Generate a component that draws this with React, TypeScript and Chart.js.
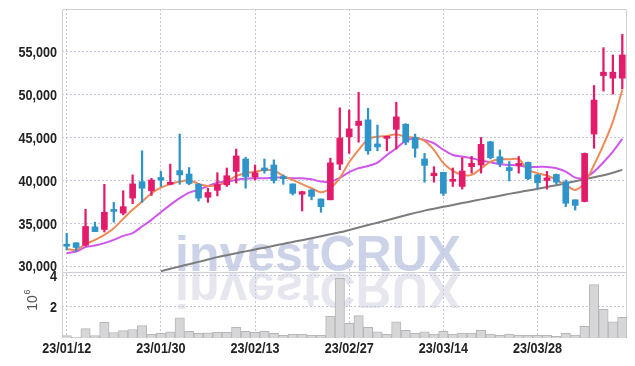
import React, { useEffect, useRef } from 'react';
import { Chart, registerables } from 'chart.js';

Chart.register(...registerables);

const dates = [
  '23/01/12', '23/01/13', '23/01/16', '23/01/17', '23/01/18', '23/01/19', '23/01/20', '23/01/25', '23/01/26', '23/01/27',
  '23/01/30', '23/01/31', '23/02/01', '23/02/02', '23/02/03', '23/02/06', '23/02/07', '23/02/08', '23/02/09', '23/02/10',
  '23/02/13', '23/02/14', '23/02/15', '23/02/16', '23/02/17', '23/02/20', '23/02/21', '23/02/22', '23/02/23', '23/02/24',
  '23/02/27', '23/02/28', '23/03/02', '23/03/03', '23/03/06', '23/03/07', '23/03/08', '23/03/09', '23/03/10', '23/03/13',
  '23/03/14', '23/03/15', '23/03/16', '23/03/17', '23/03/20', '23/03/21', '23/03/22', '23/03/23', '23/03/24', '23/03/27',
  '23/03/28', '23/03/29', '23/03/30', '23/03/31', '23/04/03', '23/04/04', '23/04/05', '23/04/06', '23/04/07', '23/04/10',
];

const opens = [
  32600, 32800, 32500, 34650, 34350, 36500, 36250, 38000, 39900, 38850,
  40400, 39600, 41200, 40800, 39600, 38100, 38900, 39550, 41100, 42550,
  40450, 41500, 41850, 40500, 39650, 38450, 38950, 37900, 37800, 41950,
  45150, 46450, 47100, 44300, 44950, 46000, 46600, 45050, 42550, 40600,
  41000, 39950, 39350, 41650, 41850, 44550, 42800, 41550, 41800, 42150,
  40700, 40050, 40750, 39900, 37800, 37600, 45450, 52250, 51950, 51950,
];
const highs = [
  33900, 32800, 36700, 35200, 39600, 37500, 38850, 40700, 43500, 40300,
  41100, 41950, 45450, 41550, 39700, 39150, 40950, 41500, 43700, 42750,
  41850, 42550, 42450, 40700, 39650, 38800, 39000, 37900, 42650, 48500,
  48250, 50300, 48450, 46500, 45200, 49150, 46650, 45450, 43200, 41650,
  41000, 41500, 42700, 42850, 45050, 44600, 43600, 42250, 42850, 42200,
  40750, 41100, 40800, 40100, 37800, 43250, 51100, 55500, 54650, 57050,
];
const lows = [
  32000, 31800, 32400, 34100, 34050, 35200, 36050, 37350, 37500, 38300,
  39350, 39550, 39600, 39550, 37650, 37500, 38250, 39350, 39750, 39150,
  40100, 40900, 39750, 39600, 38350, 36500, 37800, 36350, 37800, 41300,
  43200, 44500, 43100, 43500, 43500, 43700, 44200, 42750, 39850, 39850,
  38300, 39350, 39050, 40900, 40900, 42550, 41650, 40000, 40900, 40150,
  39150, 39050, 39600, 37000, 36600, 37550, 43800, 50450, 50100, 50700,
];
const closes = [
  32400, 32250, 34700, 34100, 36350, 36450, 37000, 39650, 39150, 40100,
  40100, 39750, 40700, 39700, 38000, 38650, 39600, 40600, 42900, 40500,
  40950, 41200, 40050, 40250, 38550, 38750, 38200, 37000, 42100, 45000,
  46050, 46950, 43500, 43950, 45150, 47450, 44500, 43800, 41800, 40900,
  38550, 40100, 41150, 42050, 44250, 42700, 42050, 41200, 41950, 40250,
  39800, 40350, 39850, 37400, 37150, 43200, 49400, 52650, 52650, 54650,
];
const volumes = [
  150000, 50000, 600000, 150000, 1000000, 350000, 470000, 540000, 790000, 240000,
  290000, 390000, 1290000, 420000, 290000, 330000, 360000, 360000, 680000, 420000,
  360000, 420000, 290000, 170000, 250000, 250000, 170000, 170000, 1400000, 3800000,
  930000, 1420000, 680000, 400000, 240000, 1030000, 490000, 300000, 400000, 250000,
  420000, 250000, 320000, 320000, 490000, 250000, 170000, 250000, 170000, 170000,
  170000, 170000, 100000, 300000, 190000, 740000, 3400000, 1820000, 1030000, 1310000,
];
const ma5 = [
  32050, 31980, 32640, 33140, 33720, 34500, 35580, 36630, 37590, 38570,
  39220, 39620, 39920, 40080, 39650, 39420, 39500, 39920, 40580, 40900,
  41080, 41280, 41200, 40580, 40120, 39620, 39150, 38690, 39150, 40350,
  42170, 43600, 44850, 45150, 45230, 45430, 45120, 45040, 44650, 43600,
  42060, 41160, 40700, 40700, 41440, 42240, 42520, 42520, 42520, 41280,
  40900, 40620, 40120, 39540, 38950, 39730, 41860, 44190, 46900, 50580,
];
const ma20 = [
  31590, 31780, 32290, 32480, 32760, 33140, 33600, 33920, 34690, 35470,
  36360, 37210, 37990, 38640, 38950, 39400, 39800, 39920, 40120, 40270,
  40310, 40310, 40380, 40380, 40310, 40310, 40190, 39920, 39920, 40350,
  41010, 41480, 41740, 42130, 43020, 43800, 44650, 44970, 44770, 44380,
  43610, 43020, 42830, 42640, 42380, 42170, 41940, 41860, 41780, 41630,
  41630, 41630, 41480, 41080, 40380, 40380, 41080, 42170, 43410, 44880,
];
const ma60 = [
  null, null, null, null, null, null, null, null, null, null,
  29490, 29770, 30050, 30310, 30580, 30850, 31130, 31360, 31580, 31800,
  32020, 32230, 32450, 32670, 32900, 33100, 33330, 33550, 33790, 34020,
  34290, 34570, 34860, 35140, 35430, 35710, 36000, 36280, 36540, 36760,
  36980, 37200, 37420, 37630, 37850, 38060, 38270, 38490, 38690, 38880,
  39080, 39290, 39500, 39720, 39950, 40190, 40430, 40660, 40950, 41280,
];

const priceTicks = [30000, 35000, 40000, 45000, 50000, 55000];
const volumeTicks = [2000000, 4000000];
const xTickLabels = ['23/01/12', '23/01/30', '23/02/13', '23/02/27', '23/03/14', '23/03/28'];

const UP = '#e31b6b';
const DOWN = '#2e94c9';
const GRID = '#c3c6dc';
const HIDDEN_FONT = { family: "'Liberation Sans', sans-serif", size: 15, weight: 'bold' as const };
const LABEL_FONT = 'bold 15px "Liberation Sans", Arial, sans-serif';
const LABEL_SX = 0.84;

function drawNarrow(ctx: CanvasRenderingContext2D, text: string, x: number, y: number, align: CanvasTextAlign) {
  ctx.save();
  ctx.translate(x, y);
  ctx.scale(LABEL_SX, 1);
  ctx.textAlign = align;
  ctx.textBaseline = 'middle';
  ctx.fillText(text, 0, 0);
  ctx.restore();
}

function zeroPadding(s: any) {
  s.paddingTop = 0;
  s.paddingBottom = 0;
  s.paddingLeft = 0;
  s.paddingRight = 0;
}

const decorPlugin = {
  id: 'decor',
  beforeDraw(chart: any) {
    const ctx = chart.ctx;
    const base = chart.scales.y.bottom - 1;
    ctx.save();
    ctx.font = 'bold 50px "Liberation Sans", Arial, sans-serif';
    ctx.textAlign = 'left';
    ctx.textBaseline = 'alphabetic';
    ctx.fillStyle = 'rgb(204,210,232)';
    ctx.fillText('investCRUX', 175, base);
    ctx.translate(0, 2 * base + 2);
    ctx.scale(1, -1);
    ctx.fillStyle = 'rgb(230,230,238)';
    ctx.fillText('investCRUX', 175, base);
    ctx.restore();
  },
  beforeDatasetsDraw(chart: any) {
    const ctx = chart.ctx;
    const a = chart.chartArea;
    const sep = chart.scales.y.bottom;
    ctx.save();
    ctx.strokeStyle = '#cfcfd4';
    ctx.lineWidth = 1;
    ctx.beginPath();
    ctx.moveTo(a.left + 0.5, a.bottom);
    ctx.lineTo(a.left + 0.5, a.top + 0.5);
    ctx.lineTo(a.right - 0.5, a.top + 0.5);
    ctx.lineTo(a.right - 0.5, a.bottom);
    ctx.moveTo(a.left, Math.round(sep) + 0.5);
    ctx.lineTo(a.right, Math.round(sep) + 0.5);
    ctx.stroke();
    ctx.restore();
  },
  afterDraw(chart: any) {
    const ctx = chart.ctx;
    const { x, y, yVol } = chart.scales;
    ctx.save();
    ctx.font = LABEL_FONT;
    ctx.fillStyle = '#222';
    y.ticks.forEach((t: any) => {
      drawNarrow(ctx, Number(t.value).toLocaleString('en-US'), 57, y.getPixelForValue(t.value) + 0.5, 'right');
    });
    yVol.ticks.forEach((t: any) => {
      drawNarrow(ctx, String(Number(t.value) / 1000000), 57, yVol.getPixelForValue(t.value) + 1.5, 'right');
    });
    x.ticks.forEach((t: any, i: number) => {
      if (t.label !== null && t.label !== undefined && t.label !== '') {
        drawNarrow(ctx, String(t.label), x.getPixelForTick(i), 349, 'center');
      }
    });
    ctx.restore();

    ctx.save();
    ctx.translate(33, 303);
    ctx.rotate(-Math.PI / 2);
    ctx.fillStyle = '#555';
    ctx.textAlign = 'center';
    ctx.textBaseline = 'middle';
    ctx.font = '14px "Liberation Sans", Arial, sans-serif';
    ctx.fillText('10', 0, 0);
    ctx.font = '9px "Liberation Sans", Arial, sans-serif';
    ctx.fillText('6', 11, -5);
    ctx.restore();
  },
};

export default function App() {
  const canvasRef = useRef<HTMLCanvasElement | null>(null);

  useEffect(() => {
    document.body.style.margin = '0';
    const canvas = canvasRef.current;
    if (!canvas) return;
    const colors = opens.map((o, i) => (closes[i] >= o ? UP : DOWN));
    const wicks = lows.map((l, i) => [l, highs[i]]);
    const bodies = opens.map((o, i) => [o, closes[i]]);

    const chart = new Chart(canvas, {
      type: 'bar',
      data: {
        labels: dates,
        datasets: [
          {
            type: 'line', label: 'MA5', data: ma5, borderColor: '#ee8a55', borderWidth: 2,
            pointRadius: 0, tension: 0.3, yAxisID: 'y', order: 7,
          } as any,
          {
            type: 'line', label: 'MA20', data: ma20, borderColor: '#cf57ee', borderWidth: 2,
            pointRadius: 0, tension: 0.3, yAxisID: 'y', order: 8,
          } as any,
          {
            type: 'line', label: 'MA60', data: ma60, borderColor: '#7c7c7e', borderWidth: 2,
            pointRadius: 0, tension: 0.3, yAxisID: 'y', order: 9,
          } as any,
          {
            type: 'bar', label: 'wick', data: wicks, backgroundColor: colors, barThickness: 1.6,
            grouped: false, yAxisID: 'y', order: 2,
          } as any,
          {
            type: 'bar', label: 'body', data: bodies, backgroundColor: colors, barThickness: 6,
            minBarLength: 2, grouped: false, yAxisID: 'y', order: 1,
          } as any,
          {
            type: 'bar', label: 'volume', data: volumes, backgroundColor: '#d6d6d8', borderColor: '#b6b6b9',
            borderWidth: 1, barPercentage: 1, categoryPercentage: 1, grouped: false, yAxisID: 'yVol', order: 10,
          } as any,
        ],
      },
      options: {
        responsive: false,
        animation: false,
        layout: { padding: { top: 9, right: 8, left: 0, bottom: 0 } },
        plugins: { legend: { display: false }, tooltip: { enabled: false } },
        scales: {
          x: {
            type: 'category',
            offset: true,
            grid: { offset: false, color: GRID, lineWidth: 1, drawTicks: false },
            border: { display: false, dash: [2, 2] },
            ticks: {
              autoSkip: false,
              maxRotation: 0,
              padding: 4,
              color: 'rgba(0,0,0,0)',
              font: HIDDEN_FONT,
              callback: (_v: any, idx: number) => (xTickLabels.includes(dates[idx]) ? dates[idx] : null),
            },
            afterFit: (s: any) => { s.height = 28; zeroPadding(s); },
          },
          y: {
            type: 'linear',
            position: 'left',
            stack: 'main',
            stackWeight: 263,
            weight: 2,
            min: 29400,
            max: 60000,
            afterBuildTicks: (s: any) => { s.ticks = priceTicks.map((v) => ({ value: v })); },
            grid: { color: GRID, lineWidth: 1, drawTicks: false },
            border: { display: false, dash: [2, 2] },
            ticks: { padding: 5, color: 'rgba(0,0,0,0)', font: HIDDEN_FONT },
            afterFit: (s: any) => { s.width = 62; zeroPadding(s); },
          },
          yVol: {
            type: 'linear',
            position: 'left',
            stack: 'main',
            stackWeight: 66,
            weight: 1,
            min: 0,
            max: 4200000,
            afterBuildTicks: (s: any) => { s.ticks = volumeTicks.map((v) => ({ value: v })); },
            grid: { color: GRID, lineWidth: 1, drawTicks: false },
            border: { display: false, dash: [2, 2] },
            ticks: { padding: 5, color: 'rgba(0,0,0,0)', font: HIDDEN_FONT },
            afterFit: (s: any) => { s.width = 62; zeroPadding(s); },
          },
        },
      } as any,
      plugins: [decorPlugin],
    });
    return () => chart.destroy();
  }, []);

  return (
    <div style={{ position: 'absolute', left: 0, top: 0, width: 635, height: 366 }}>
      <canvas ref={canvasRef} width={635} height={366} style={{ display: 'block' }} />
    </div>
  );
}
